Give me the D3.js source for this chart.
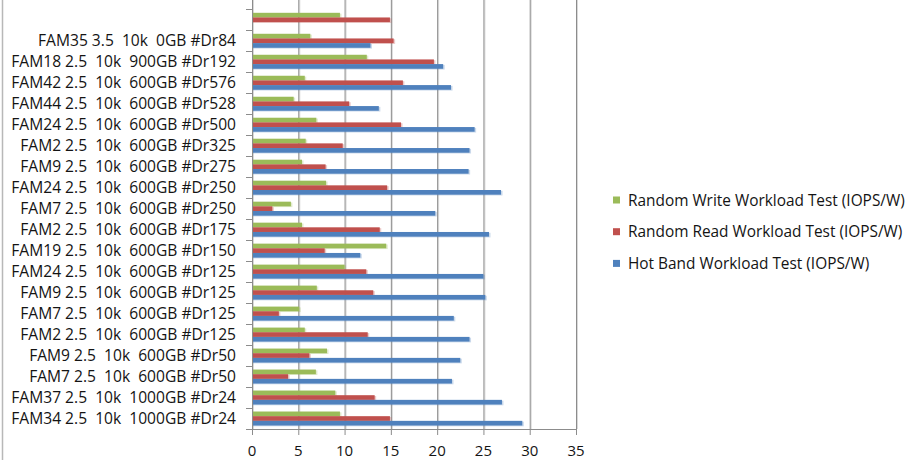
<!DOCTYPE html>
<html>
<head>
<meta charset="utf-8">
<script src="https://cdn.jsdelivr.net/npm/d3@7"></script>
<style>
  html, body { margin: 0; padding: 0; background: #fff; }
  svg text { font-family: "Open Sans", "DejaVu Sans", sans-serif; fill: #141414; white-space: pre; }
</style>
</head>
<body>
<svg id="chart" width="912" height="460"></svg>
<script>
// Drive configurations, listed from the bottom of the chart to the top
const categories = [
  "FAM34 2.5  10k  1000GB #Dr24",
  "FAM37 2.5  10k  1000GB #Dr24",
  "FAM7 2.5  10k  600GB #Dr50",
  "FAM9 2.5  10k  600GB #Dr50",
  "FAM2 2.5  10k  600GB #Dr125",
  "FAM7 2.5  10k  600GB #Dr125",
  "FAM9 2.5  10k  600GB #Dr125",
  "FAM24 2.5  10k  600GB #Dr125",
  "FAM19 2.5  10k  600GB #Dr150",
  "FAM2 2.5  10k  600GB #Dr175",
  "FAM7 2.5  10k  600GB #Dr250",
  "FAM24 2.5  10k  600GB #Dr250",
  "FAM9 2.5  10k  600GB #Dr275",
  "FAM2 2.5  10k  600GB #Dr325",
  "FAM24 2.5  10k  600GB #Dr500",
  "FAM44 2.5  10k  600GB #Dr528",
  "FAM42 2.5  10k  600GB #Dr576",
  "FAM18 2.5  10k  900GB #Dr192",
  "FAM35 3.5  10k  0GB #Dr84",
  ""
];

// IOPS per watt for each workload test
const randomWrite = [9.5, 9.0, 6.9, 8.1, 5.7, 5.1, 7.0, 10.0, 14.5, 5.4, 4.2, 8.0, 5.4, 5.8, 6.95, 4.5, 5.7, 12.4, 6.3, 9.5];
const randomRead  = [14.9, 13.25, 3.9, 6.2, 12.5, 2.9, 13.1, 12.35, 7.85, 13.8, 2.2, 14.6, 7.95, 9.8, 16.1, 10.5, 16.3, 19.65, 15.3, 14.9];
const hotBand     = [29.2, 27.0, 21.6, 22.5, 23.5, 21.8, 25.2, 25.0, 11.7, 25.6, 19.8, 26.9, 23.4, 23.5, 24.05, 13.7, 21.5, 20.65, 12.8, 0];

const xTicks = [0, 5, 10, 15, 20, 25, 30, 35];

const seriesNames = [
  "Random Write Workload Test (IOPS/W)",
  "Random Read Workload Test (IOPS/W)",
  "Hot Band Workload Test (IOPS/W)"
];
const seriesColors = ["#9BBB59", "#C0504D", "#4F81BD"];
const seriesValues = [randomWrite, randomRead, hotBand];

const svg = d3.select("#chart");

// frame edge of the chart object
svg.append("line").attr("x1", 2.5).attr("x2", 2.5).attr("y1", 0).attr("y2", 460)
  .attr("stroke", "#b8b8b8").attr("stroke-width", 1.5);

const plotLeft = 252, plotRight = 576, plotBottom = 429, plotTop = 9.3;

const x = d3.scaleLinear().domain([0, 35]).range([plotLeft, plotRight]);
const idx = d3.range(categories.length);
const y = d3.scaleBand().domain(idx).range([plotBottom, plotTop])
  .paddingInner(1 / 3).paddingOuter(1 / 6);
const ySub = d3.scaleBand().domain([0, 1, 2]).range([0, y.bandwidth()]);

// vertical gridlines (continue above the visible area)
const grid = svg.append("g");
xTicks.forEach(t => {
  grid.append("line")
    .attr("x1", x(t) + 1.5).attr("x2", x(t) + 1.5)
    .attr("y1", -10).attr("y2", plotBottom)
    .attr("stroke", "#d9d9d9").attr("stroke-width", 1);
  grid.append("line")
    .attr("x1", x(t) + 0.5).attr("x2", x(t) + 0.5)
    .attr("y1", -10).attr("y2", plotBottom + 6)
    .attr("stroke", "#8c8c8c").attr("stroke-width", 1);
});

// bars
const groups = svg.append("g").selectAll("g")
  .data(idx).join("g")
  .attr("transform", i => `translate(0,${y(i)})`);

seriesValues.forEach((vals, s) => {
  groups.filter(i => vals[i] > 0).append("rect")
    .attr("x", x(0) + 0.5)
    .attr("y", ySub(s) + 0.8)
    .attr("width", i => x(vals[i]) - x(0) + 1)
    .attr("height", ySub.bandwidth())
    .attr("fill", seriesColors[s])
    .attr("opacity", 0.3);
  groups.filter(i => vals[i] > 0).append("rect")
    .attr("x", x(0))
    .attr("y", ySub(s))
    .attr("width", i => x(vals[i]) - x(0))
    .attr("height", ySub.bandwidth())
    .attr("fill", seriesColors[s]);
});

// category axis line and tick marks at band boundaries
svg.append("line").attr("x1", plotLeft + 0.5).attr("x2", plotLeft + 0.5)
  .attr("y1", -10).attr("y2", plotBottom + 6)
  .attr("stroke", "#8c8c8c");
const step = y.step();
d3.range(categories.length + 1).forEach(k => {
  const yy = Math.round(plotBottom - k * step) + 0.5;
  svg.append("line").attr("x1", plotLeft - 6).attr("x2", plotLeft)
    .attr("y1", yy).attr("y2", yy).attr("stroke", "#8c8c8c");
});

// value axis baseline
svg.append("line").attr("x1", plotLeft).attr("x2", plotRight + 1)
  .attr("y1", plotBottom + 0.5).attr("y2", plotBottom + 0.5)
  .attr("stroke", "#8c8c8c");

// category labels
svg.append("g").selectAll("text")
  .data(idx).join("text")
  .attr("x", 236)
  .attr("y", i => y(i) + y.bandwidth() / 2)
  .attr("dy", "0.36em")
  .attr("text-anchor", "end")
  .attr("font-size", 15.6)
  .text(i => categories[i]);

// value tick labels
svg.append("g").selectAll("text")
  .data(xTicks).join("text")
  .attr("x", d => x(d))
  .attr("y", 456)
  .attr("text-anchor", "middle")
  .attr("font-size", 15)
  .text(d => d);

// legend
const legend = svg.append("g").selectAll("g")
  .data(seriesNames).join("g")
  .attr("transform", (d, i) => `translate(613,${200 + i * 31.7})`);
legend.append("rect").attr("x", 0).attr("y", -3.5).attr("width", 7).attr("height", 7)
  .attr("fill", (d, i) => seriesColors[i]);
legend.append("text").attr("x", 15).attr("y", 0).attr("dy", "0.36em")
  .attr("font-size", 15.4).text(d => d);
</script>
</body>
</html>
